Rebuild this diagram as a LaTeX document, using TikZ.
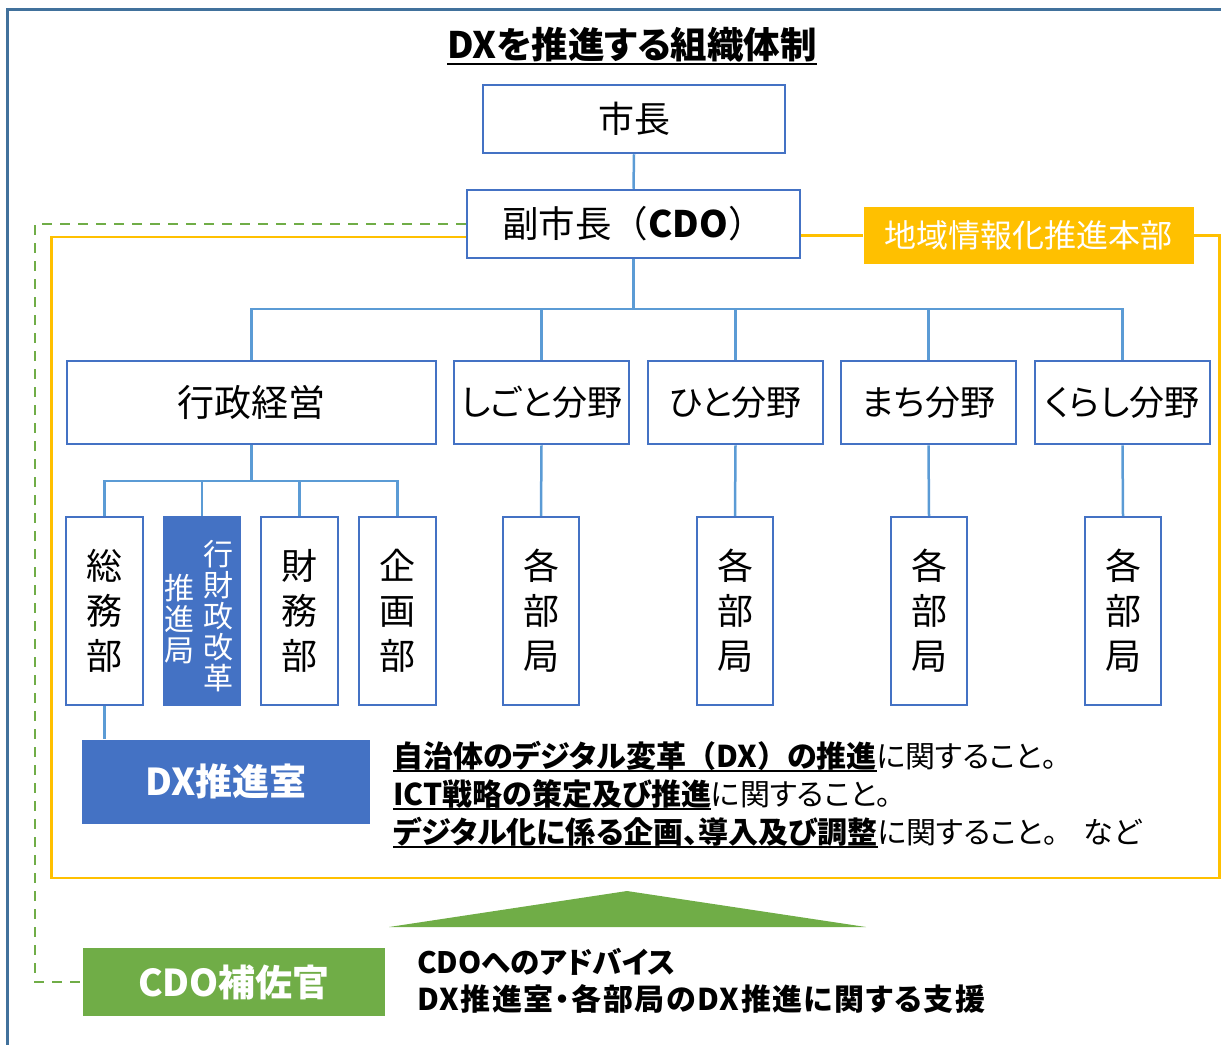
\documentclass[tikz,border=0pt]{standalone}
\usepackage{fontspec}
\setmainfont{Noto Sans CJK JP}[RawFeature=+palt]
\newfontfamily\jpf{Noto Sans CJK JP}
\newcommand\myul[2][-4.5]{\setbox0\hbox{#2}\rlap{\rule[#1pt]{\wd0}{2pt}}\box0}
\newcommand\fsz[1]{\fontsize{#1}{#1}\selectfont}
\definecolor{frameblue}{HTML}{41719C}
\definecolor{boxblue}{HTML}{4472C4}
\definecolor{lineblue}{HTML}{5B9BD5}
\definecolor{gold}{HTML}{FFC000}
\definecolor{grn}{HTML}{70AD47}
\tikzset{
  box/.style={draw=boxblue, line width=2.5pt, fill=white, inner sep=0pt, align=center},
  vbox/.style={box, minimum width=77pt, minimum height=188pt, font=\fontsize{36}{45}\selectfont},
  fbox/.style={box, minimum width=175pt, minimum height=83pt, font=\fsz{35}},
  conn/.style={draw=lineblue, line width=2.5pt},
  goldline/.style={draw=gold, line width=2.5pt},
  greendash/.style={draw=grn, line width=2.5pt, dash pattern=on 10pt off 8pt},
  txt/.style={inner sep=0pt, anchor=base west},
}
\begin{document}
\begin{tikzpicture}[x=1pt,y=-1pt]
\useasboundingbox (0,0) rectangle (1221,1045);
% outer frame
\draw[draw=frameblue, line width=3pt] (1221,9) -- (7.5,9) -- (7.5,1045);

% title
\node[inner sep=0pt, anchor=base, font=\fsz{36.5}\bfseries] (title) at (632,58) {\myul[-6.5]{DXを推進する組織体制}};

% main boxes
\node[box, minimum width=302pt, minimum height=68pt, font=\fsz{36}] (mayor) at (634,119) {市長};
\node[box, minimum width=333pt, minimum height=68pt, font=\fsz{36.5}] (cdo) at (633.5,224) {副市長{\jpf（}{\bfseries CDO}{\jpf）}};
\node[fill=gold, text=white, inner sep=0pt, minimum width=330pt, minimum height=57pt, font=\fsz{32}] (hq) at (1028.5,235.5) {地域情報化推進本部};

% connectors top
\draw[conn] (mayor.south) -- (cdo.north);
\draw[goldline] (cdo.east |- hq.west) -- (hq.west);
\draw[goldline] (hq.east) -- (1219.5,235.5) -- (1219.5,878) -- (51.5,878) -- (51.5,237) -- (cdo.west |- 0,237);
\draw[greendash] (cdo.west) -- (35,224) -- (35,982) -- (83,982);

% second level
\node[box, minimum width=369pt, minimum height=83pt, font=\fsz{37}] (gyosei) at (251.5,402.5) {行政経営};
\node[fbox] (shigoto) at (541.5,402.5) {しごと分野};
\node[fbox] (hito) at (735.5,402.5) {ひと分野};
\node[fbox] (machi) at (928.5,402.5) {まち分野};
\node[fbox] (kurashi) at (1122.5,402.5) {くらし分野};

\coordinate (bus) at (0,309);
\foreach \n in {gyosei,shigoto,hito,machi,kurashi}
  \draw[conn] (cdo.south) -- (cdo.south |- bus) -| (\n.north);

% third level
\node[vbox] (soumu) at (104.5,611) {総\\務\\部};
\node[fill=boxblue, inner sep=0pt, minimum width=78pt, minimum height=190pt] (gyozai) at (202,611) {};
\node[inner sep=0pt, text=white, align=center, font=\fontsize{30}{31}\selectfont] (gz1) at (218,616) {行\\財\\政\\改\\革};
\node[inner sep=0pt, text=white, align=center, font=\fontsize{30}{31}\selectfont] (gz2) at (179,619) {推\\進\\局};
\node[vbox] (zaimu) at (299.5,611) {財\\務\\部};
\node[vbox] (kikaku) at (397.5,611) {企\\画\\部};

\coordinate (bus2) at (0,481);
\foreach \n in {soumu,gyozai,zaimu,kikaku}
  \draw[conn] (gyosei.south) -- (gyosei.south |- bus2) -| (\n.north);

\node[vbox, minimum width=76pt] (kb1) at (541,611) {各\\部\\局};
\node[vbox, minimum width=76pt] (kb2) at (735,611) {各\\部\\局};
\node[vbox, minimum width=76pt] (kb3) at (929,611) {各\\部\\局};
\node[vbox, minimum width=76pt] (kb4) at (1123,611) {各\\部\\局};
\draw[conn] (shigoto.south) -- (kb1.north);
\draw[conn] (hito.south) -- (kb2.north);
\draw[conn] (machi.south) -- (kb3.north);
\draw[conn] (kurashi.south) -- (kb4.north);

% DX office
\node[fill=boxblue, text=white, inner sep=0pt, minimum width=288pt, minimum height=84pt, font=\fsz{37}\bfseries] (dx) at (226,781.5) {DX推進室};
\draw[conn] (soumu.south) -- (soumu.south |- dx.north);

\node[txt, font=\fsz{30}] (d1) at (393,767) {\myul{\bfseries 自治体のデジタル変革{\jpf（}DX{\jpf）}の推進}に関すること。};
\node[txt, font=\fsz{30}] (d2) at (393,805) {\myul{\bfseries ICT戦略の策定及び推進}に関すること。};
\node[txt, font=\fsz{30}] (d3) at (393,843) {\myul{\bfseries デジタル化に係る企画、導入及び調整}に関すること。\hspace{26pt}など};

% triangle
\fill[grn] (627,891) -- (866,927) -- (389,927) -- cycle;

% CDO assistant
\node[fill=grn, text=white, inner sep=0pt, minimum width=302pt, minimum height=68pt, font=\fsz{37}\bfseries] (cdoho) at (234,982) {CDO補佐官};
\node[txt, font=\fsz{29.5}\bfseries] (s1) at (417,973) {CDOへのアドバイス};
\node[txt, font=\fsz{30}\bfseries\addfontfeature{LetterSpace=5}] (s2) at (417,1010) {DX推進室・各部局のDX推進に関する支援};
\end{tikzpicture}
\end{document}
